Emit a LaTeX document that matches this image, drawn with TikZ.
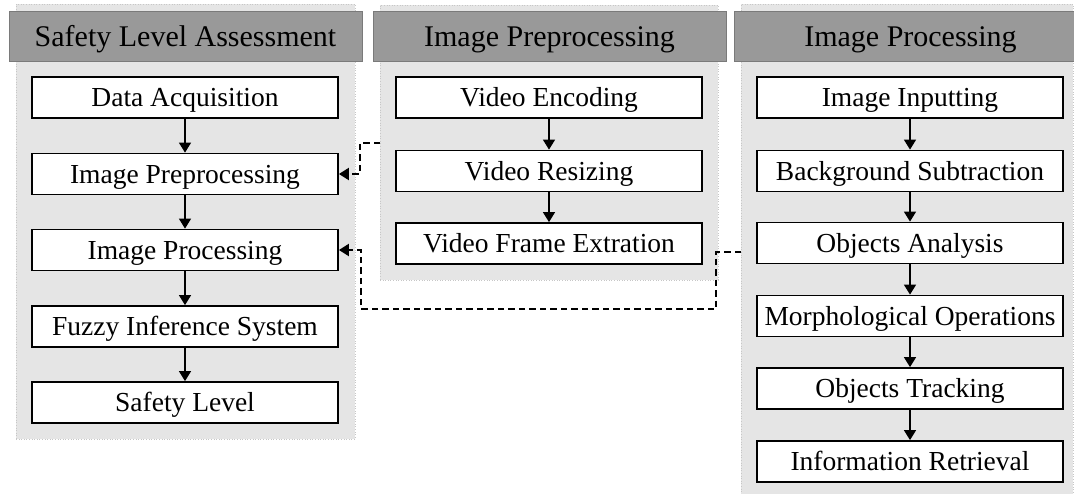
\documentclass[tikz,border=0pt]{standalone}
\usepackage{fontspec}
\setmainfont{Liberation Serif}
\usetikzlibrary{arrows.meta}
\begin{document}
\begin{tikzpicture}[x=1pt,y=-1pt,
  panelbg/.style={fill=black!10, draw=black!22, dotted, line width=0.6pt, inner sep=0pt, outer sep=0pt},
  header/.style={fill=black!40, draw=black!52, line width=1pt, minimum width=353pt, minimum height=50pt, inner sep=0pt, font=\fontsize{30}{32}\selectfont, text height=20pt, text depth=0pt},
  stepbox/.style={fill=white, draw=black, line width=1.8pt, minimum width=306pt, minimum height=41pt, inner sep=0pt, font=\fontsize{27.5}{30}\selectfont, text height=18pt, text depth=0pt},
  flow/.style={line width=1.5pt, -{Triangle[width=12pt,length=10pt]}},
  link/.style={line width=2pt, dash pattern=on 6.5pt off 4pt, -{Triangle[width=12pt,length=10pt]}}
]
\useasboundingbox (0,0) rectangle (1074,493);
\clip (0,0) rectangle (1074,493);

% panel backgrounds
\node[panelbg, minimum width=339pt, minimum height=435pt] (bg1) at (185.5,221.5) {};
\node[panelbg, minimum width=338pt, minimum height=275pt] (bg2) at (549,142.5) {};
\node[panelbg, minimum width=332pt, minimum height=492pt] (bg3) at (907,250) {};

% headers
\node[header] (h1) at (185.5,36) {Safety Level Assessment};
\node[header] (h2) at (549.5,36) {Image Preprocessing};
\node[header] (h3) at (910.5,36) {Image Processing};

% panel 1
\node[stepbox] (a1) at (185,97.5) {Data Acquisition};
\node[stepbox] (a2) at (185,174) {Image Preprocessing};
\node[stepbox] (a3) at (185,250) {Image Processing};
\node[stepbox] (a4) at (185,326.5) {Fuzzy Inference System};
\node[stepbox] (a5) at (185,402.5) {Safety Level};

% panel 2
\node[stepbox] (b1) at (549,97.5) {Video Encoding};
\node[stepbox] (b2) at (549,171) {Video Resizing};
\node[stepbox] (b3) at (549,243.5) {Video Frame Extration};

% panel 3
\node[stepbox] (c1) at (910,97.5) {Image Inputting};
\node[stepbox] (c2) at (910,171) {Background Subtraction};
\node[stepbox] (c3) at (910,243) {Objects Analysis};
\node[stepbox] (c4) at (910,316) {Morphological Operations};
\node[stepbox] (c5) at (910,388.5) {Objects Tracking};
\node[stepbox] (c6) at (910,461.5) {Information Retrieval};

% flows
\draw[flow] (a1) -- (a2);
\draw[flow] (a2) -- (a3);
\draw[flow] (a3) -- (a4);
\draw[flow] (a4) -- (a5);
\draw[flow] (b1) -- (b2);
\draw[flow] (b2) -- (b3);
\draw[flow] (c1) -- (c2);
\draw[flow] (c2) -- (c3);
\draw[flow] (c3) -- (c4);
\draw[flow] (c4) -- (c5);
\draw[flow] (c5) -- (c6);

% dashed links
\coordinate (s1) at (380,143);
\coordinate (s2) at (741,252);
\coordinate (k2) at (716,309);
\draw[link] (s1) -| ([xshift=21pt]a2.east) -- (a2.east);
\draw[link] (s2) -| (k2) -| ([xshift=22pt]a3.east) -- (a3.east);
\end{tikzpicture}
\end{document}
